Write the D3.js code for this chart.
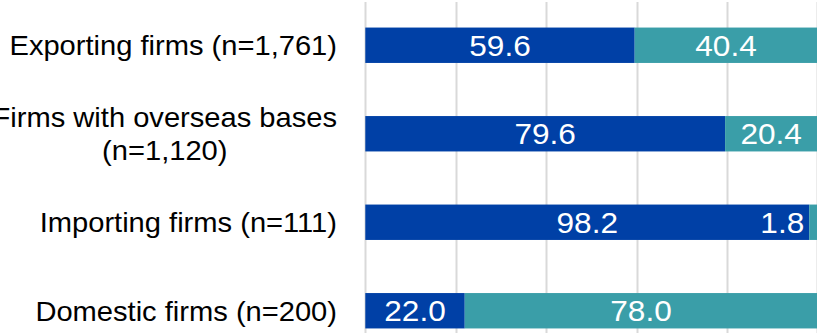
<!DOCTYPE html>
<html>
<head>
<meta charset="utf-8">
<script src="https://cdn.jsdelivr.net/npm/d3@7"></script>
<style>
html,body{margin:0;padding:0;background:#fff;overflow:hidden;}
svg{display:block;}
text{font-family:"Liberation Sans", Arial, sans-serif;}
</style>
</head>
<body>
<svg id="chart" width="817" height="333"></svg>
<script>
const categories = [
  ["Exporting firms (n=1,761)"],
  ["Firms with overseas bases", "(n=1,120)"],
  ["Importing firms (n=111)"],
  ["Domestic firms (n=200)"]
];
const seriesA = [59.6, 79.6, 98.2, 22.0];
const seriesB = [40.4, 20.4, 1.8, 78.0];
const xTicks = [0, 20, 40, 60, 80, 100];
const colors = ["#0040A6", "#3A9EA8"];

const W = 817, H = 333;
const svg = d3.select("#chart");
const keys = categories.map((c, i) => "c" + i);
const rows = keys.map((k, i) => ({key: k, a: seriesA[i], b: seriesB[i]}));

const x = d3.scaleLinear().domain([0, 100]).range([365.3, 817.3]);
const y = d3.scaleBand().domain(keys).range([1, 355]).paddingInner(0.6).paddingOuter(0.3);

// gridlines
svg.append("g").selectAll("line").data(xTicks).join("line")
  .attr("x1", d => Math.round(x(d)) + 0.5).attr("x2", d => Math.round(x(d)) + 0.5)
  .attr("y1", 2).attr("y2", H)
  .attr("stroke", "#D9D9D9").attr("stroke-width", 2);

const stack = d3.stack().keys(["a", "b"])(rows);

const layers = svg.append("g").selectAll("g").data(stack).join("g")
  .attr("fill", (d, i) => colors[i]);

layers.selectAll("rect").data(d => d).join("rect")
  .attr("x", d => x(d[0]))
  .attr("y", d => y(d.data.key))
  .attr("width", d => x(d[1]) - x(d[0]))
  .attr("height", y.bandwidth());

// value labels
const fs = 29, sxV = 1.09;
stack.forEach((layer) => {
  layer.forEach(d => {
    const v = d[1] - d[0];
    let cx = (x(d[0]) + x(d[1])) / 2;
    const by = y(d.data.key) + y.bandwidth() / 2 + 10.3;
    const t = svg.append("text")
      .attr("fill", "#fff")
      .attr("font-size", fs)
      .attr("text-anchor", "middle")
      .attr("x", 0).attr("y", 0)
      .text(v.toFixed(1));
    const w = t.node().getComputedTextLength() * sxV;
    const maxRight = x.range()[1] - 13;
    if (cx + w / 2 > maxRight) cx = maxRight - w / 2;
    t.attr("transform", `translate(${cx},${by}) scale(${sxV},1)`);
  });
});

// category labels
const lfs = 28, sxL = 1.04;
const lh = 33;
const labelRight = 337;
categories.forEach((lines, i) => {
  const cy = y(keys[i]) + y.bandwidth() / 2;
  const n = lines.length;
  const g = svg.append("text").attr("font-size", lfs).attr("fill", "#000")
    .attr("transform", `translate(${labelRight},${cy + 10}) scale(${sxL},1)`);
  let w0 = 0;
  lines.forEach((ln, j) => {
    const ts = g.append("tspan").text(ln)
      .attr("y", (j - (n - 1) / 2) * lh);
    if (j === 0) {
      ts.attr("x", 0).attr("text-anchor", "end");
      w0 = ts.node().getComputedTextLength();
    } else {
      ts.attr("x", -w0 / 2).attr("text-anchor", "middle");
    }
  });
});
</script>
</body>
</html>
